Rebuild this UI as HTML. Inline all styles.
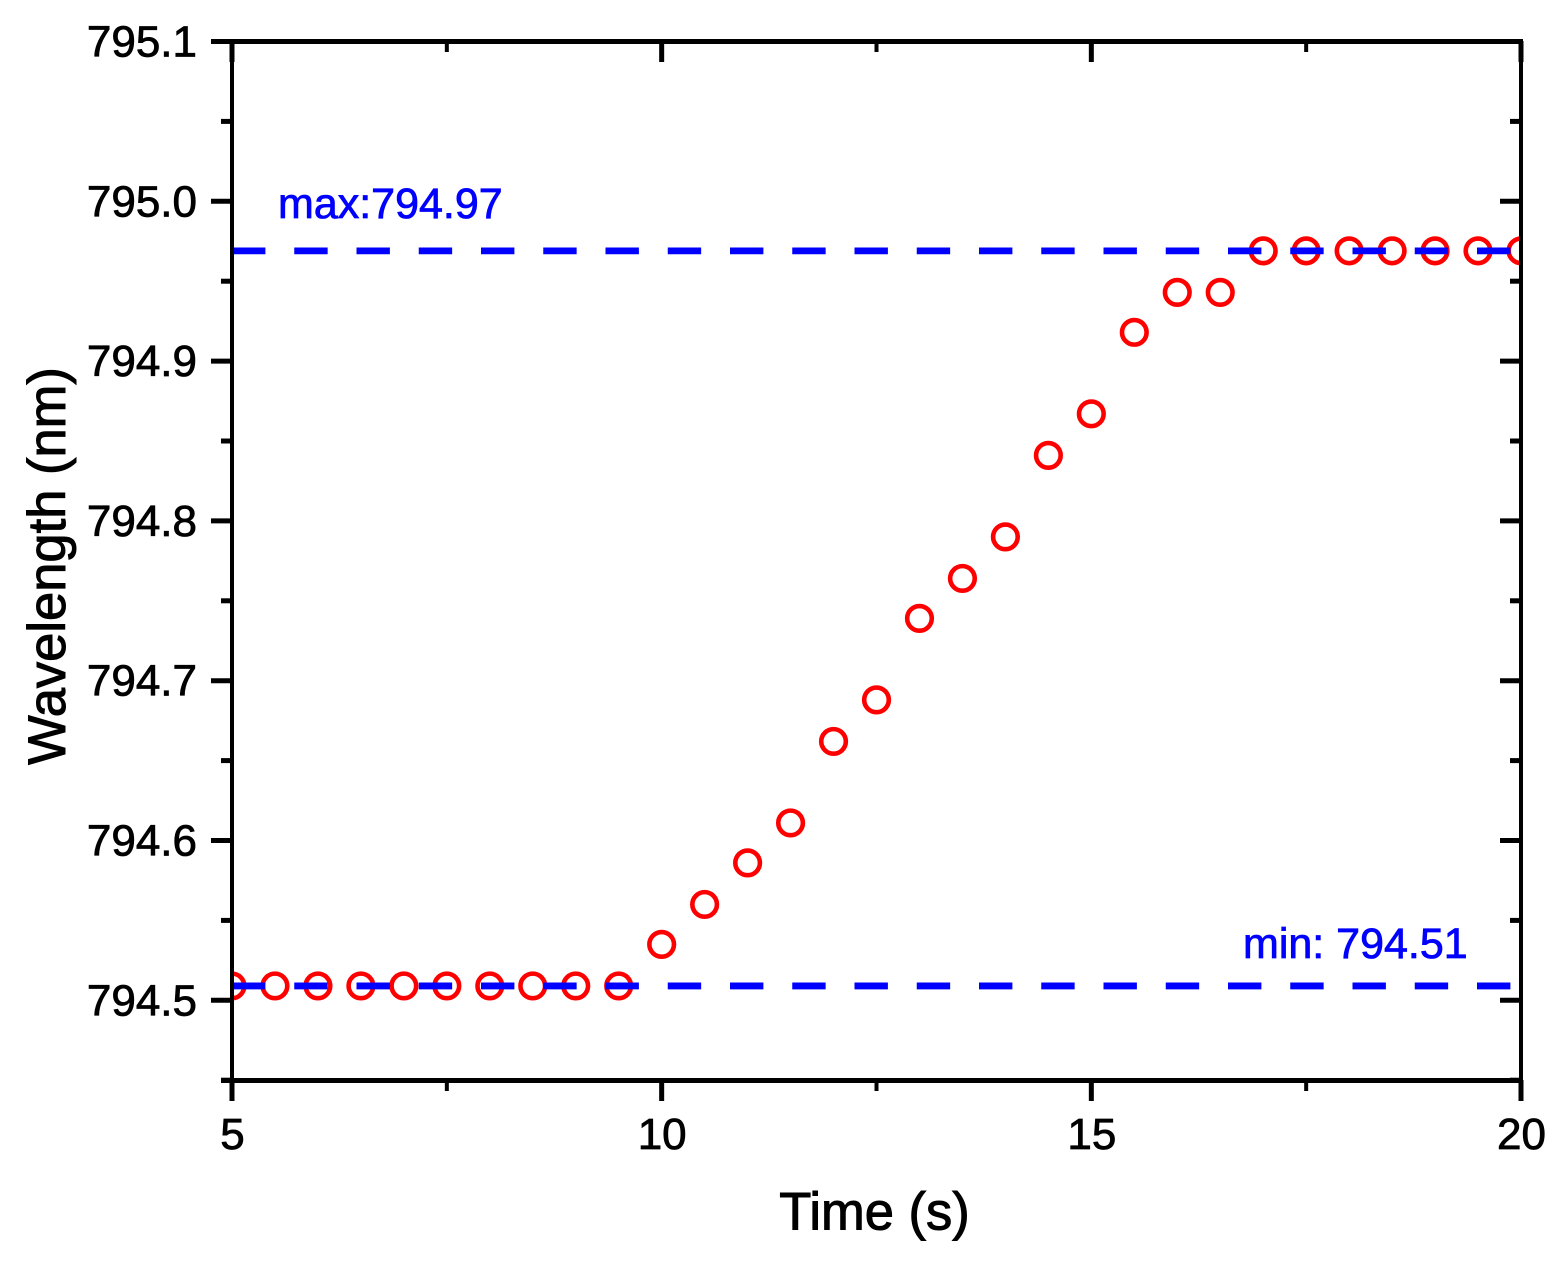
<!DOCTYPE html>
<html lang="en">
<head>
<meta charset="utf-8">
<title>Wavelength vs Time</title>
<style>
html,body{margin:0;padding:0;background:#fff;width:1558px;height:1266px;overflow:hidden}
svg{display:block;font-family:"Liberation Sans",Arial,sans-serif}
</style>
</head>
<body>
<svg id="chart" xmlns="http://www.w3.org/2000/svg" width="1558" height="1266" viewBox="0 0 1558 1266">
<defs><clipPath id="plot-clip"><rect x="232" y="41.5" width="1289" height="1039"/></clipPath></defs>
<rect x="0" y="0" width="1558" height="1266" fill="#fff"/>
<g id="series" clip-path="url(#plot-clip)"></g>
<g id="refs" clip-path="url(#plot-clip)"></g>
<g id="axes"></g>
<text x="278" y="218" font-size="43" fill="#0000ff" stroke="#0000ff" stroke-width="0.8">max:794.97</text>
<text x="1243" y="958" font-size="43" fill="#0000ff" stroke="#0000ff" stroke-width="0.8">min: 794.51</text>
<text x="874.5" y="1229.5" font-size="52.5" text-anchor="middle" fill="#000" stroke="#000" stroke-width="1">Time (s)</text>
<text transform="translate(65 566) rotate(-90)" font-size="52.5" text-anchor="middle" fill="#000" stroke="#000" stroke-width="1">Wavelength (nm)</text>
</svg>
<script>
const times = [5,5.5,6,6.5,7,7.5,8,8.5,9,9.5,10,10.5,11,11.5,12,12.5,13,13.5,14,14.5,15,15.5,16,16.5,17,17.5,18,18.5,19,19.5,20];
const wavelengths = [794.509,794.509,794.509,794.509,794.509,794.509,794.509,794.509,794.509,794.509,794.535,794.56,794.586,794.611,794.662,794.688,794.739,794.764,794.79,794.841,794.867,794.918,794.943,794.943,794.969,794.969,794.969,794.969,794.969,794.969,794.969];
const referenceValues = [794.969,794.509];
const xMajorTicks = [5,10,15,20];
const xMinorTicks = [7.5,12.5,17.5];
const yMajorTicks = [794.5,794.6,794.7,794.8,794.9,795.0,795.1];
const yMinorTicks = [794.45,794.55,794.65,794.75,794.85,794.95,795.05];
const yTickLabels = ['794.5','794.6','794.7','794.8','794.9','795.0','795.1'];
const xTickLabels = ['5','10','15','20'];

const NS = 'http://www.w3.org/2000/svg';
const xScale = v => 232 + (v - 5) * (1521 - 232) / 15;
const yScale = v => 1000.3 - (v - 794.5) * 1598;

function make(tag, parent, props) {
  const el = document.createElementNS(NS, tag);
  for (const k in props) el.setAttribute(k, props[k]);
  parent.appendChild(el);
  return el;
}

const seriesGroup = document.getElementById('series');
const refsGroup = document.getElementById('refs');
const axesGroup = document.getElementById('axes');

times.forEach((t, i) => {
  const c = make('circle', seriesGroup, {cx: xScale(t), cy: yScale(wavelengths[i]), r: 12.3, fill: 'none', stroke: '#ff0000', 'stroke-width': 4.6});
  
  
});

referenceValues.forEach(v => {
  const l = make('line', refsGroup, {x1: 232, x2: 1521, y1: yScale(v), y2: yScale(v), stroke: '#0000ff', 'stroke-width': 6.8, 'stroke-dasharray': '33.4 28.85'});
  
  
});

function hLine(x1, x2, y, name) {
  const l = make('line', axesGroup, {x1: x1, x2: x2, y1: y, y2: y, stroke: '#000', 'stroke-width': 5});
  
  
}
function vLine(x, y1, y2, name, w) {
  const l = make('line', axesGroup, {x1: x, x2: x, y1: y1, y2: y2, stroke: '#000', 'stroke-width': w});
  
  
}

vLine(232, 39, 1083, 'y-axis-line', 4);
vLine(1521, 39, 1083, 'right-axis-line', 4);
hLine(211, 1523, 41.5, 'top-axis-line');
hLine(221, 1523, 1080.5, 'x-axis-line');

yMajorTicks.forEach((v, i) => {
  const y = yScale(v);
  hLine(211, 232, y, 'y-major-tick');
  hLine(1500, 1521, y, 'right-major-tick');
  const t = make('text', axesGroup, {x: 197, y: y + 15, 'font-size': 44, 'text-anchor': 'end', fill: '#000', stroke: '#000', 'stroke-width': 0.8});
  
  
  t.textContent = yTickLabels[i];
});
yMinorTicks.forEach(v => {
  const y = yScale(v);
  hLine(221, 232, y, 'y-minor-tick');
  hLine(1510, 1521, y, 'right-minor-tick');
});
xMajorTicks.forEach((v, i) => {
  const x = xScale(v);
  vLine(x, 1080, 1101, 'x-major-tick', 5);
  vLine(x, 41, 62, 'top-major-tick', 5);
  const t = make('text', axesGroup, {x: x + 0.5, y: 1149, 'font-size': 44, 'text-anchor': 'middle', fill: '#000', stroke: '#000', 'stroke-width': 0.8});
  
  
  t.textContent = xTickLabels[i];
});
xMinorTicks.forEach(v => {
  const x = xScale(v);
  vLine(x, 1080, 1091, 'x-minor-tick', 4);
  vLine(x, 41, 52, 'top-minor-tick', 4);
});
</script>
</body>
</html>
